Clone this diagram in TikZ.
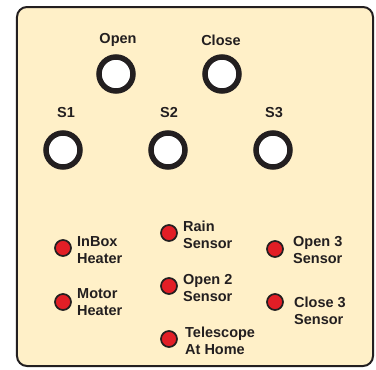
\documentclass[tikz,border=0pt]{standalone}
\usepackage{fontspec}
\setmainfont{Liberation Sans}
\definecolor{panel}{HTML}{FFF0C8}
\definecolor{ink}{HTML}{231F20}
\definecolor{ledred}{HTML}{E21E26}
\begin{document}
\begin{tikzpicture}[x=1pt,y=-1pt,
  lbl/.style={font=\bfseries\fontsize{14.5}{17}\selectfont, text=ink, inner sep=0pt},
  txt/.style={font=\bfseries\fontsize{14.5}{17.5}\selectfont, text=ink, inner sep=0pt, align=left, anchor=west},
  button/.style={circle, draw=ink, line width=5.5pt, fill=white, minimum size=34pt, inner sep=0pt},
  led/.style={circle, draw=ink, line width=1.7pt, fill=ledred, minimum size=16pt, inner sep=0pt}]
\useasboundingbox (0,0) rectangle (376,370);
\draw[draw=ink, line width=2pt, fill=panel, rounded corners=10pt] (17,7) rectangle (373,366);
% buttons
\node[button] (open) at (116,74) {};
\node[button] (close) at (222,74) {};
\node[button] (s1) at (63,150) {};
\node[button] (s2) at (168,150) {};
\node[button] (s3) at (273,150) {};
\node[lbl] (lopen) at (118,40) {Open};
\node[lbl] (lclose) at (221,40) {Close};
\node[lbl] (ls1) at (66,113) {S1};
\node[lbl] (ls2) at (169,113) {S2};
\node[lbl] (ls3) at (274,113) {S3};
% LEDs
\node[led] (inbox) at (63,248) {};
\node[led] (motor) at (63,302) {};
\node[led] (rain) at (169,233) {};
\node[led] (open2) at (169,286) {};
\node[led] (home) at (169,339) {};
\node[led] (open3) at (275,249) {};
\node[led] (close3) at (275,302) {};
\node[txt] (tinbox) at (77,250) {InBox\\Heater};
\node[txt] (tmotor) at (77,302) {Motor\\Heater};
\node[txt] (train) at (183,235) {Rain\\Sensor};
\node[txt] (topen2) at (183,288) {Open 2\\Sensor};
\node[txt] (thome) at (185,341) {Telescope\\At Home};
\node[txt] (topen3) at (293,250) {Open 3\\Sensor};
\node[txt] (tclose3) at (294,311) {Close 3\\Sensor};
\end{tikzpicture}
\end{document}
